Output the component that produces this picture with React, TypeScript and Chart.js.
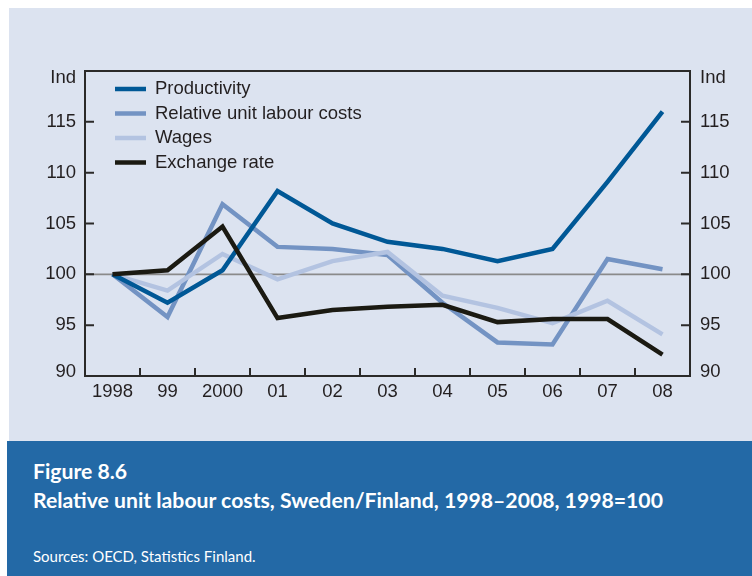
import React, { useEffect, useRef } from "react";
import { Chart, registerables } from "chart.js";

Chart.register(...registerables);

const categories = ["1998", "99", "2000", "01", "02", "03", "04", "05", "06", "07", "08"];
const productivity = [100, 97.2, 100.4, 108.2, 105.0, 103.2, 102.5, 101.3, 102.5, 109.1, 116.0];
const relativeUnitLabourCosts = [100, 95.8, 106.9, 102.7, 102.5, 101.9, 97.2, 93.3, 93.1, 101.5, 100.5];
const wages = [100, 98.4, 102.0, 99.5, 101.3, 102.2, 97.9, 96.7, 95.2, 97.4, 94.1];
const exchangeRate = [100, 100.4, 104.7, 95.7, 96.5, 96.8, 97.0, 95.3, 95.6, 95.6, 92.1];
const yTicks = [90, 95, 100, 105, 110, 115];

const FONT = "'Liberation Sans', Arial, Helvetica, sans-serif";
const TEXT = "#231f20";

const decorPlugin = {
  id: "decor",
  beforeDatasetsDraw(chart: any) {
    const { ctx, chartArea } = chart;
    const y = chart.scales.y;
    ctx.save();
    ctx.strokeStyle = "#8a8a8a";
    ctx.lineWidth = 1.6;
    const p = y.getPixelForValue(100);
    ctx.beginPath();
    ctx.moveTo(chartArea.left, p);
    ctx.lineTo(chartArea.right, p);
    ctx.stroke();
    ctx.restore();
  },
  afterDraw(chart: any) {
    const { ctx, chartArea } = chart;
    const x = chart.scales.x;
    const y = chart.scales.y;
    ctx.save();
    ctx.strokeStyle = "#2b2a29";
    ctx.lineWidth = 2;
    ctx.strokeRect(chartArea.left, chartArea.top, chartArea.right - chartArea.left, chartArea.bottom - chartArea.top);
    // x ticks at category boundaries
    ctx.beginPath();
    for (let i = 1; i < categories.length; i++) {
      const bx = (x.getPixelForValue(i - 1) + x.getPixelForValue(i)) / 2;
      ctx.moveTo(bx, chartArea.bottom);
      ctx.lineTo(bx, chartArea.bottom - 8);
    }
    // y ticks inward both sides
    yTicks.forEach((v) => {
      if (v === 90) return;
      const py = y.getPixelForValue(v);
      ctx.moveTo(chartArea.left, py);
      ctx.lineTo(chartArea.left + 9, py);
      ctx.moveTo(chartArea.right, py);
      ctx.lineTo(chartArea.right - 9, py);
    });
    ctx.stroke();
    // Ind labels and lowest tick label (raised slightly as in the original)
    ctx.fillStyle = TEXT;
    ctx.font = `18.5px ${FONT}`;
    ctx.textBaseline = "middle";
    ctx.textAlign = "right";
    ctx.fillText("Ind", chartArea.left - 9, chartArea.top + 7);
    ctx.fillText(String(yTicks[0]), chartArea.left - 9, y.getPixelForValue(yTicks[0]) - 4);
    ctx.textAlign = "left";
    ctx.fillText("Ind", chartArea.right + 10, chartArea.top + 7);
    ctx.fillText(String(yTicks[0]), chartArea.right + 10, y.getPixelForValue(yTicks[0]) - 4);
    // legend
    const ds = chart.data.datasets;
    ds.forEach((d: any, i: number) => {
      const ly = chartArea.top + 18 + i * 24.5;
      ctx.strokeStyle = d.borderColor;
      ctx.lineWidth = 4.5;
      ctx.lineCap = "butt";
      ctx.beginPath();
      ctx.moveTo(chartArea.left + 30, ly);
      ctx.lineTo(chartArea.left + 61, ly);
      ctx.stroke();
      ctx.fillStyle = TEXT;
      ctx.textAlign = "left";
      ctx.fillText(d.label, chartArea.left + 70, ly);
    });
    ctx.restore();
  },
};

export default function App() {
  const ref = useRef<HTMLCanvasElement>(null);
  useEffect(() => {
    if (!ref.current) return;
    const mk = (label: string, data: number[], color: string, order: number) => ({
      label,
      data,
      borderColor: color,
      backgroundColor: color,
      borderWidth: 4.5,
      pointRadius: 0,
      tension: 0,
      borderJoinStyle: "miter" as const,
      borderCapStyle: "butt" as const,
      fill: false,
      order,
    });
    const yLabel = (v: any) => (Number(v) === yTicks[0] ? "" : String(v));
    const chart = new Chart(ref.current, {
      type: "line",
      data: {
        labels: categories,
        datasets: [
          mk("Productivity", productivity, "#005896", 1),
          mk("Relative unit labour costs", relativeUnitLabourCosts, "#7393c3", 3),
          mk("Wages", wages, "#b3c3e1", 2),
          mk("Exchange rate", exchangeRate, "#1b1a12", 0),
        ],
      },
      options: {
        animation: false,
        responsive: false,
        devicePixelRatio: 1,
        layout: { padding: { top: 71, left: 0, right: 0, bottom: 0 } },
        plugins: { legend: { display: false }, tooltip: { enabled: false } },
        scales: {
          x: {
            type: "category",
            offset: true,
            grid: { display: false, drawTicks: false },
            border: { display: false },
            ticks: { color: TEXT, font: { family: FONT, size: 18.5 }, padding: 5, maxRotation: 0, autoSkip: false },
            afterFit(s: any) { s.height = 64; },
          },
          y: {
            position: "left",
            min: 90,
            max: 120,
            grid: { display: false, drawTicks: false },
            border: { display: false },
            afterBuildTicks(s: any) { s.ticks = yTicks.map((v) => ({ value: v })); },
            ticks: { color: TEXT, font: { family: FONT, size: 18.5 }, padding: 9, callback: yLabel },
            afterFit(s: any) { s.width = 85; },
          },
          y2: {
            position: "right",
            min: 90,
            max: 120,
            grid: { display: false, drawTicks: false },
            border: { display: false },
            afterBuildTicks(s: any) { s.ticks = yTicks.map((v) => ({ value: v })); },
            ticks: { color: TEXT, font: { family: FONT, size: 18.5 }, padding: 10, callback: yLabel },
            afterFit(s: any) { s.width = 62; },
          },
        },
      },
      plugins: [decorPlugin],
    });
    return () => chart.destroy();
  }, []);

  return (
    <div style={{ position: "fixed", left: 0, top: 0, width: 752, height: 576, background: "#ffffff", overflow: "hidden" }}>
      <div style={{ position: "absolute", left: 9, top: 8, width: 743, height: 433, background: "#dce3f0" }} />
      <canvas ref={ref} width={752} height={440} style={{ position: "absolute", left: 0, top: 0, width: 752, height: 440 }} />
      <div style={{ position: "absolute", left: 7, top: 441, width: 745, height: 135, background: "#2369a6", color: "#ffffff", fontFamily: "Lato, 'Open Sans', sans-serif" }}>
        <div style={{ position: "absolute", left: 26, top: 16, fontSize: 21.2, fontWeight: 700, lineHeight: "29px", whiteSpace: "nowrap" }}>
          <div>Figure 8.6</div>
          <div>Relative unit labour costs, Sweden/Finland, 1998–2008, 1998=100</div>
        </div>
        <div style={{ position: "absolute", left: 26, top: 105, fontSize: 15, lineHeight: "20px", whiteSpace: "nowrap" }}>
          Sources: OECD, Statistics Finland.
        </div>
      </div>
    </div>
  );
}
